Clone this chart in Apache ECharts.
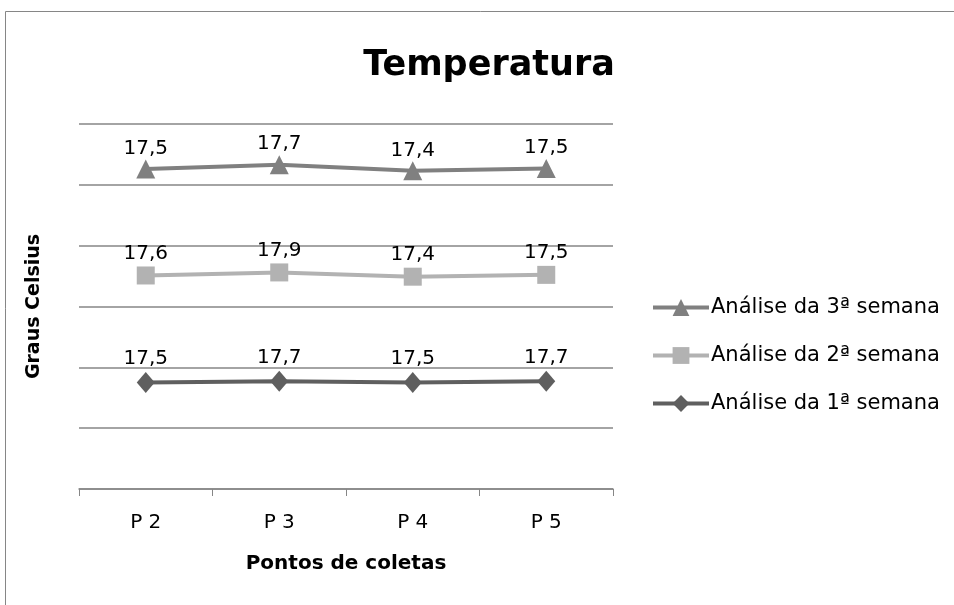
<!DOCTYPE html>
<html>
<head>
<meta charset="utf-8">
<script src="https://cdn.jsdelivr.net/npm/echarts@6/dist/echarts.min.js"></script>
<style>html,body{margin:0;padding:0;background:#fff}#c{width:954px;height:605px}</style>
</head>
<body>
<div id="c"></div>
<script>
var categories = ['P 2', 'P 3', 'P 4', 'P 5'];
var semana1 = [17.5, 17.7, 17.5, 17.7];
var semana2 = [17.6, 17.9, 17.4, 17.5];
var semana3 = [17.5, 17.7, 17.4, 17.5];
var names = ['Análise da 1ª semana', 'Análise da 2ª semana', 'Análise da 3ª semana'];

var FONT = '"DejaVu Sans", sans-serif';
var fmt = function (p) { return p.value.toFixed(1).replace('.', ','); };
function mk(name, data, color, symbol, size, dist) {
  return {
    name: name, type: 'line', stack: 'total', data: data,
    symbol: symbol, symbolSize: size,
    lineStyle: { color: color, width: 4 },
    itemStyle: { color: color },
    label: { show: true, position: 'top', distance: dist, formatter: fmt,
             fontFamily: FONT, fontSize: 20, color: '#000' },
    animation: false
  };
}
var chart = echarts.init(document.getElementById('c'));
chart.setOption({
  animation: false,
  graphic: [{ type: 'rect', shape: { x: 5.5, y: 11.5, width: 1000, height: 1000 },
              style: { fill: 'none', stroke: '#868686', lineWidth: 1 } }],
  title: { text: 'Temperatura', left: 484, top: 43, textAlign: 'center',
           textStyle: { fontFamily: FONT, fontSize: 35, fontWeight: 'bold', color: '#000' } },
  grid: { left: 79, right: 341, top: 124, bottom: 116 },
  legend: {
    left: 646, top: 292, orient: 'vertical', itemWidth: 56, itemHeight: 21, itemGap: 27,
    data: [names[2], names[1], names[0]],
    lineStyle: { width: 4 },
    textStyle: { fontFamily: FONT, fontSize: 21, color: '#000', padding: [0, 0, 0, -3] }
  },
  xAxis: {
    type: 'category', data: categories, boundaryGap: true,
    name: 'Pontos de coletas', nameLocation: 'middle', nameGap: 65,
    nameTextStyle: { fontFamily: FONT, fontSize: 20, fontWeight: 'bold', color: '#000' },
    axisLine: { lineStyle: { color: '#868686', width: 1.5 } },
    axisTick: { show: true, length: 7, lineStyle: { color: '#868686' } },
    axisLabel: { fontFamily: FONT, fontSize: 20, color: '#000', margin: 24 }
  },
  yAxis: {
    type: 'value', min: 0, max: 60, interval: 10,
    name: 'Graus Celsius', nameLocation: 'middle', nameGap: 35, nameRotate: 90,
    nameTextStyle: { fontFamily: FONT, fontSize: 19, fontWeight: 'bold', color: '#000' },
    axisLabel: { show: false }, axisLine: { show: false }, axisTick: { show: false },
    splitLine: { lineStyle: { color: '#868686', width: 1.5 } }
  },
  series: [
    mk(names[0], semana1, '#5f5f5f', 'diamond', [18, 21], 3),
    mk(names[1], semana2, '#b2b2b2', 'rect', 18, 3),
    mk(names[2], semana3, '#808080', 'triangle', 19, 1)
  ]
});
</script>
</body>
</html>
